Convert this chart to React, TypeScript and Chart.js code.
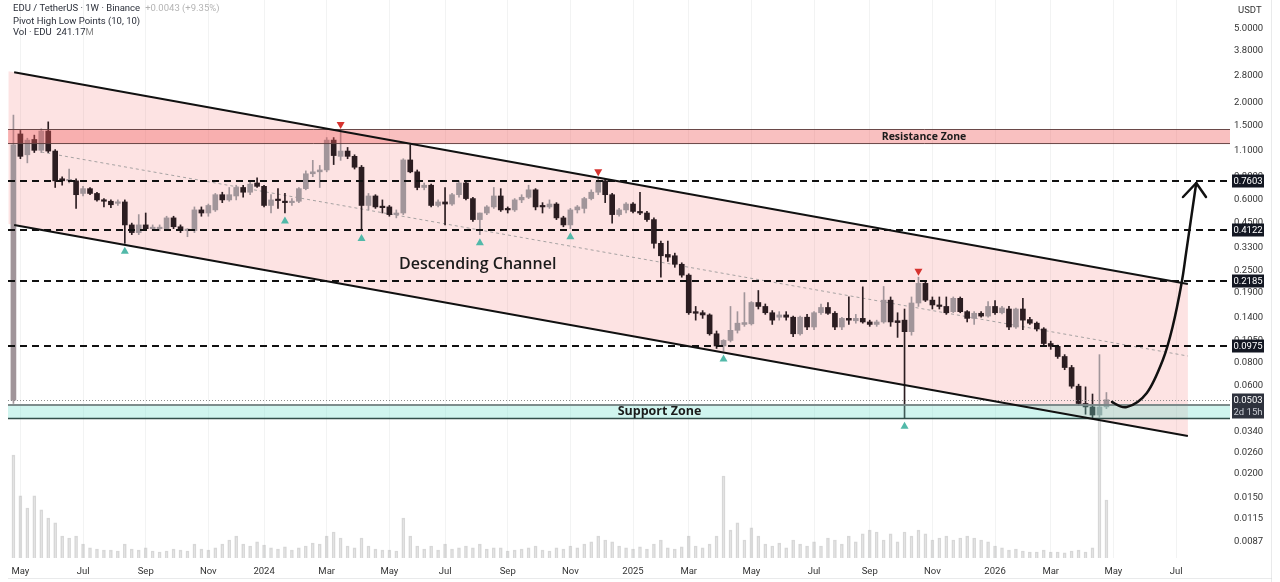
import React, { useEffect, useRef } from "react";
import { Chart, registerables } from "chart.js";

Chart.register(...registerables);

// Weekly EDU/USDT candles, first bar = week of 24 Apr 2023
const opens = [
  0.05, 1.36, 1.05, 1.27, 1.11, 1.41, 1.1, 0.78, 0.76, 0.76,
  0.65, 0.69, 0.65, 0.6, 0.59, 0.575, 0.585, 0.44, 0.4, 0.44,
  0.42, 0.42, 0.42, 0.48, 0.43, 0.41, 0.41, 0.53, 0.51, 0.53,
  0.64, 0.6, 0.63, 0.7, 0.66, 0.74, 0.71, 0.56, 0.6, 0.59,
  0.58, 0.59, 0.69, 0.83, 0.85, 0.87, 1.26, 1.03, 1.1, 1.03,
  0.9, 0.56, 0.63, 0.55, 0.55, 0.5, 0.51, 0.985, 0.85, 0.7,
  0.72, 0.56, 0.585, 0.57, 0.64, 0.74, 0.61, 0.47, 0.51, 0.55,
  0.63, 0.535, 0.53, 0.6, 0.62, 0.68, 0.555, 0.55, 0.57, 0.48,
  0.44, 0.53, 0.54, 0.61, 0.66, 0.76, 0.64, 0.5, 0.53, 0.57,
  0.52, 0.51, 0.47, 0.35, 0.305, 0.3, 0.27, 0.236, 0.15, 0.148,
  0.144, 0.114, 0.098, 0.105, 0.119, 0.128, 0.129, 0.168, 0.16, 0.148,
  0.14, 0.144, 0.14, 0.114, 0.14, 0.124, 0.148, 0.158, 0.147, 0.124,
  0.138, 0.134, 0.138, 0.132, 0.128, 0.132, 0.173, 0.134, 0.135, 0.117,
  0.167, 0.213, 0.173, 0.163, 0.16, 0.15, 0.177, 0.15, 0.138, 0.147,
  0.142, 0.16, 0.148, 0.155, 0.124, 0.155, 0.136, 0.13, 0.121, 0.101,
  0.0975, 0.086, 0.075, 0.0595, 0.048, 0.046, 0.0416, 0.046,
];
const highs = [
  1.72, 1.42, 1.29, 1.34, 1.45, 1.58, 1.12, 0.8, 0.88, 0.78,
  0.71, 0.7, 0.66, 0.61, 0.6, 0.6, 0.6, 0.45, 0.5, 0.51,
  0.44, 0.44, 0.49, 0.49, 0.44, 0.42, 0.55, 0.55, 0.57, 0.65,
  0.66, 0.7, 0.72, 0.72, 0.75, 0.79, 0.72, 0.64, 0.69, 0.65,
  0.61, 0.7, 0.86, 0.98, 0.92, 1.3, 1.3, 1.42, 1.15, 1.05,
  0.92, 0.65, 0.64, 0.6, 0.56, 0.53, 1.0, 1.19, 0.87, 0.74,
  0.73, 0.6, 0.7, 0.65, 0.76, 0.75, 0.62, 0.51, 0.56, 0.7,
  0.69, 0.55, 0.61, 0.64, 0.72, 0.69, 0.58, 0.6, 0.58, 0.49,
  0.54, 0.56, 0.62, 0.68, 0.79, 0.78, 0.65, 0.54, 0.58, 0.58,
  0.66, 0.52, 0.48, 0.36, 0.36, 0.31, 0.275, 0.24, 0.16, 0.152,
  0.146, 0.118, 0.106, 0.16, 0.15, 0.19, 0.17, 0.195, 0.165, 0.152,
  0.15, 0.15, 0.142, 0.142, 0.145, 0.15, 0.165, 0.168, 0.15, 0.14,
  0.18, 0.145, 0.204, 0.135, 0.135, 0.205, 0.18, 0.148, 0.155, 0.18,
  0.23, 0.22, 0.18, 0.18, 0.18, 0.18, 0.18, 0.152, 0.15, 0.15,
  0.17, 0.172, 0.16, 0.16, 0.157, 0.177, 0.14, 0.132, 0.123, 0.104,
  0.099, 0.088, 0.077, 0.061, 0.059, 0.054, 0.088, 0.055,
];
const lows = [
  0.048, 1.0, 0.95, 1.08, 1.08, 1.08, 0.7, 0.72, 0.74, 0.54,
  0.63, 0.64, 0.59, 0.55, 0.545, 0.56, 0.35, 0.39, 0.39, 0.41,
  0.41, 0.41, 0.41, 0.42, 0.4, 0.38, 0.4, 0.49, 0.49, 0.52,
  0.58, 0.59, 0.6, 0.62, 0.64, 0.7, 0.55, 0.51, 0.54, 0.51,
  0.56, 0.58, 0.68, 0.8, 0.7, 0.85, 0.93, 0.98, 1.0, 0.88,
  0.41, 0.53, 0.54, 0.51, 0.49, 0.48, 0.5, 0.84, 0.68, 0.68,
  0.55, 0.55, 0.44, 0.56, 0.62, 0.6, 0.46, 0.39, 0.5, 0.54,
  0.52, 0.51, 0.52, 0.58, 0.61, 0.53, 0.51, 0.54, 0.47, 0.43,
  0.42, 0.51, 0.51, 0.6, 0.64, 0.58, 0.45, 0.49, 0.51, 0.51,
  0.5, 0.46, 0.33, 0.23, 0.28, 0.26, 0.23, 0.145, 0.135, 0.138,
  0.112, 0.095, 0.092, 0.103, 0.115, 0.125, 0.127, 0.155, 0.145, 0.128,
  0.135, 0.135, 0.11, 0.112, 0.12, 0.12, 0.145, 0.145, 0.12, 0.12,
  0.128, 0.13, 0.13, 0.125, 0.125, 0.13, 0.125, 0.109, 0.04, 0.112,
  0.16, 0.17, 0.155, 0.155, 0.145, 0.148, 0.148, 0.132, 0.128, 0.14,
  0.14, 0.145, 0.146, 0.12, 0.122, 0.12, 0.128, 0.118, 0.098, 0.094,
  0.084, 0.073, 0.058, 0.047, 0.042, 0.04, 0.0405, 0.045,
];
const closes = [
  1.19, 1.03, 1.26, 1.11, 1.41, 1.1, 0.76, 0.76, 0.77, 0.64,
  0.69, 0.65, 0.6, 0.59, 0.565, 0.585, 0.44, 0.4, 0.44, 0.42,
  0.425, 0.425, 0.48, 0.43, 0.41, 0.415, 0.53, 0.51, 0.56, 0.64,
  0.6, 0.64, 0.7, 0.66, 0.73, 0.71, 0.56, 0.6, 0.595, 0.58,
  0.59, 0.69, 0.83, 0.85, 0.87, 1.26, 1.04, 1.1, 1.03, 0.9,
  0.56, 0.63, 0.55, 0.545, 0.5, 0.51, 0.985, 0.85, 0.7, 0.72,
  0.56, 0.585, 0.57, 0.64, 0.74, 0.61, 0.47, 0.51, 0.55, 0.63,
  0.53, 0.53, 0.6, 0.62, 0.68, 0.55, 0.55, 0.57, 0.48, 0.44,
  0.53, 0.55, 0.61, 0.66, 0.75, 0.64, 0.5, 0.53, 0.57, 0.52,
  0.51, 0.47, 0.35, 0.3, 0.295, 0.27, 0.236, 0.148, 0.147, 0.144,
  0.114, 0.098, 0.105, 0.119, 0.13, 0.131, 0.168, 0.16, 0.148, 0.135,
  0.144, 0.14, 0.114, 0.14, 0.124, 0.148, 0.158, 0.147, 0.124, 0.138,
  0.135, 0.138, 0.132, 0.128, 0.132, 0.173, 0.132, 0.131, 0.117, 0.167,
  0.213, 0.173, 0.163, 0.16, 0.148, 0.177, 0.15, 0.138, 0.147, 0.142,
  0.16, 0.148, 0.157, 0.124, 0.155, 0.135, 0.13, 0.121, 0.101, 0.0975,
  0.086, 0.075, 0.0595, 0.048, 0.046, 0.0416, 0.046, 0.0503,
];
// weekly volume, millions of EDU
const volumes = [
  428, 258, 208, 258, 200, 166, 146, 91, 83, 91,
  58, 42, 37, 33, 33, 29, 58, 37, 33, 42,
  29, 25, 29, 37, 33, 29, 58, 37, 33, 42,
  58, 75, 91, 58, 50, 67, 54, 42, 37, 46,
  33, 42, 50, 62, 58, 91, 108, 83, 50, 42,
  83, 50, 37, 33, 33, 29, 166, 91, 50, 37,
  50, 33, 58, 37, 42, 50, 42, 58, 37, 42,
  42, 29, 33, 37, 42, 50, 33, 29, 42, 37,
  50, 42, 58, 67, 91, 75, 67, 50, 42, 37,
  46, 37, 58, 75, 42, 37, 46, 91, 50, 42,
  58, 91, 341, 116, 146, 75, 125, 91, 58, 50,
  62, 42, 75, 58, 50, 67, 50, 83, 75, 58,
  91, 67, 100, 116, 108, 75, 100, 67, 108, 91,
  116, 100, 75, 83, 91, 75, 83, 91, 83, 75,
  67, 50, 42, 33, 37, 29, 25, 25, 33, 25,
  25, 21, 29, 33, 25, 42, 574, 241.17,
];

const monthTicks = [1, 10, 19, 28, 36, 45, 54, 62, 71, 80, 89, 97, 106, 115, 123, 132, 141, 149, 158, 167];
const monthLabels = ["May", "Jul", "Sep", "Nov", "2024", "Mar", "May", "Jul", "Sep", "Nov", "2025", "Mar", "May", "Jul", "Sep", "Nov", "2026", "Mar", "May", "Jul"];
const priceTicks = [5, 3.8, 2.8, 2, 1.5, 1.1, 0.8, 0.6, 0.45, 0.33, 0.25, 0.19, 0.14, 0.105, 0.08, 0.06, 0.034, 0.026, 0.02, 0.015, 0.0115, 0.0087];

const keyLevels = [0.7603, 0.4122, 0.2185, 0.0975];
const resistanceZone = [1.2, 1.446];
const supportZone = [0.0398, 0.0471];
const channelUpper = [[-0.7, 2.96], [168.7, 0.2115]];
const channelLower = [[-0.7, 0.445], [168.7, 0.0321]];
const channelMid = [[4, 1.087], [168.7, 0.0865]];
const pivotHighs = [47, 84, 130];
const pivotLows = [16, 39, 50, 67, 80, 102, 128];
const projection = [[157.8, 0.0489], [159.9, 0.0459], [162.8, 0.0547], [165.1, 0.0823], [166.5, 0.124], [167.8, 0.214], [168.5, 0.322], [169.9, 0.74]];
const projectionHead = [[168.0, 0.622], [169.9, 0.74], [171.3, 0.622]];

const UP = "#a1959a";
const DOWN = "#2b1d21";
const FONT = "Roboto";

const lastClose = closes[closes.length - 1];
const prevClose = closes[closes.length - 2];
const lastVolume = volumes[volumes.length - 1];

function smoothPath(ctx: CanvasRenderingContext2D, pts: number[][]) {
  ctx.moveTo(pts[0][0], pts[0][1]);
  for (let i = 0; i < pts.length - 1; i++) {
    const p0 = pts[i - 1] || pts[i];
    const p1 = pts[i];
    const p2 = pts[i + 1];
    const p3 = pts[i + 2] || p2;
    ctx.bezierCurveTo(
      p1[0] + (p2[0] - p0[0]) / 6, p1[1] + (p2[1] - p0[1]) / 6,
      p2[0] - (p3[0] - p1[0]) / 6, p2[1] - (p3[1] - p1[1]) / 6,
      p2[0], p2[1]
    );
  }
}

const overlays = {
  id: "overlays",
  beforeDatasetsDraw(chart: any) {
    const { ctx, chartArea: a, scales } = chart;
    const px = (i: number) => scales.x.getPixelForValue(i);
    const py = (p: number) => scales.y.getPixelForValue(p);
    ctx.save();
    ctx.beginPath();
    ctx.rect(a.left, a.top, a.width, a.height);
    ctx.clip();
    // channel body
    ctx.beginPath();
    ctx.moveTo(px(channelUpper[0][0]), py(channelUpper[0][1]));
    ctx.lineTo(px(channelUpper[1][0]), py(channelUpper[1][1]));
    ctx.lineTo(px(channelLower[1][0]), py(channelLower[1][1]));
    ctx.lineTo(px(channelLower[0][0]), py(channelLower[0][1]));
    ctx.closePath();
    ctx.fillStyle = "rgba(240, 80, 80, 0.16)";
    ctx.fill();
    // channel median
    ctx.beginPath();
    ctx.setLineDash([3, 3]);
    ctx.strokeStyle = "rgba(150,150,150,0.85)";
    ctx.lineWidth = 1;
    ctx.moveTo(px(channelMid[0][0]), py(channelMid[0][1]));
    ctx.lineTo(px(channelMid[1][0]), py(channelMid[1][1]));
    ctx.stroke();
    ctx.restore();
  },
  afterDatasetsDraw(chart: any) {
    const { ctx, chartArea: a, scales } = chart;
    const px = (i: number) => scales.x.getPixelForValue(i);
    const py = (p: number) => scales.y.getPixelForValue(p);
    ctx.save();
    ctx.beginPath();
    ctx.rect(a.left, a.top, a.width, a.height);
    ctx.clip();

    // resistance zone
    const rTop = py(resistanceZone[1]);
    const rBot = py(resistanceZone[0]);
    ctx.fillStyle = "rgba(240, 90, 90, 0.38)";
    ctx.fillRect(a.left, rTop, a.right - a.left, rBot - rTop);
    ctx.strokeStyle = "rgba(90, 60, 60, 0.9)";
    ctx.lineWidth = 1;
    ctx.beginPath();
    ctx.moveTo(a.left, rTop + 0.5); ctx.lineTo(a.right, rTop + 0.5);
    ctx.moveTo(a.left, rBot - 0.5); ctx.lineTo(a.right, rBot - 0.5);
    ctx.stroke();

    // support zone
    const sTop = py(supportZone[1]);
    const sBot = py(supportZone[0]);
    ctx.fillStyle = "rgba(110, 225, 205, 0.32)";
    ctx.fillRect(a.left, sTop, a.right - a.left, sBot - sTop);
    ctx.strokeStyle = "rgba(120, 135, 135, 0.95)";
    ctx.lineWidth = 2;
    ctx.beginPath();
    ctx.moveTo(a.left, sTop); ctx.lineTo(a.right, sTop);
    ctx.stroke();
    ctx.strokeStyle = "rgba(40, 70, 65, 0.95)";
    ctx.lineWidth = 1.5;
    ctx.beginPath();
    ctx.moveTo(a.left, sBot); ctx.lineTo(a.right, sBot);
    ctx.stroke();

    // last price line
    ctx.setLineDash([1, 2]);
    ctx.strokeStyle = "rgba(130,130,130,0.9)";
    ctx.lineWidth = 1;
    ctx.beginPath();
    ctx.moveTo(a.left, Math.round(py(lastClose)) + 0.5);
    ctx.lineTo(a.right, Math.round(py(lastClose)) + 0.5);
    ctx.stroke();

    // key horizontal levels
    ctx.setLineDash([7, 5]);
    ctx.strokeStyle = "#111";
    ctx.lineWidth = 2;
    keyLevels.forEach((lv) => {
      const y = Math.round(py(lv));
      ctx.beginPath();
      ctx.moveTo(a.left, y);
      ctx.lineTo(a.right - 2, y);
      ctx.stroke();
    });
    ctx.setLineDash([]);

    // channel borders
    ctx.strokeStyle = "#111";
    ctx.lineWidth = 2;
    [channelUpper, channelLower].forEach((ln) => {
      ctx.beginPath();
      ctx.moveTo(px(ln[0][0] + 0.8), py(ln[0][1] * Math.pow(ln[1][1] / ln[0][1], 0.8 / (ln[1][0] - ln[0][0]))));
      ctx.lineTo(px(ln[1][0]), py(ln[1][1]));
      ctx.stroke();
    });

    // pivot markers
    ctx.fillStyle = "#d6332f";
    pivotHighs.forEach((i) => {
      const cx = px(i);
      const cy = py(highs[i]) - 5;
      ctx.beginPath();
      ctx.moveTo(cx - 4, cy - 3.5);
      ctx.lineTo(cx + 4, cy - 3.5);
      ctx.lineTo(cx, cy + 3.5);
      ctx.closePath();
      ctx.fill();
    });
    ctx.fillStyle = "#52b9a9";
    pivotLows.forEach((i) => {
      const cx = px(i);
      const cy = py(lows[i]) + 7;
      ctx.beginPath();
      ctx.moveTo(cx, cy - 3.5);
      ctx.lineTo(cx + 4, cy + 3.5);
      ctx.lineTo(cx - 4, cy + 3.5);
      ctx.closePath();
      ctx.fill();
    });

    // projected path
    ctx.strokeStyle = "#111";
    ctx.lineWidth = 2.5;
    ctx.lineCap = "round";
    ctx.lineJoin = "round";
    ctx.beginPath();
    smoothPath(ctx, projection.map((p) => [px(p[0]), py(p[1])]));
    ctx.stroke();
    ctx.beginPath();
    projectionHead.forEach((p, k) => {
      if (k === 0) ctx.moveTo(px(p[0]), py(p[1]));
      else ctx.lineTo(px(p[0]), py(p[1]));
    });
    ctx.stroke();

    // annotation texts
    ctx.fillStyle = "#1b1b1b";
    ctx.textBaseline = "middle";
    ctx.textAlign = "left";
    ctx.font = "600 16px 'Open Sans'";
    ctx.fillText("Descending Channel", px(55.4), py(0.271));
    ctx.textAlign = "center";
    ctx.font = "bold 10.5px 'Open Sans'";
    ctx.fillText("Resistance Zone", px(130.8), py(Math.sqrt(resistanceZone[0] * resistanceZone[1])));
    ctx.font = "bold 12.5px 'Open Sans'";
    ctx.fillText("Support Zone", px(92.8), py(Math.sqrt(supportZone[0] * supportZone[1])));
    ctx.restore();
  },
  afterDraw(chart: any) {
    const { ctx, chartArea: a, scales } = chart;
    const py = (p: number) => scales.y.getPixelForValue(p);
    ctx.save();
    // price axis tags
    const tag = (val: number, text: string, bg: string, fg: string, dy = 0) => {
      const y = Math.round(py(val)) + dy;
      ctx.fillStyle = bg;
      ctx.fillRect(a.right + 2, y - 6.5, 32, 13);
      ctx.fillStyle = fg;
      ctx.font = `9.5px ${FONT}`;
      ctx.textAlign = "center";
      ctx.textBaseline = "middle";
      ctx.fillText(text, a.right + 18, y + 0.5);
    };
    keyLevels.forEach((lv) => tag(lv, lv.toFixed(4), "#131722", "#fff"));
    tag(lastClose, lastClose.toFixed(4), "#2e323d", "#fff");
    tag(lastClose, "2d 15h", "#2e323d", "#c8cbd2", 12);

    ctx.fillStyle = "#333";
    ctx.font = `9.5px ${FONT}`;
    ctx.textAlign = "left";
    ctx.textBaseline = "middle";
    ctx.fillText("USDT", a.right + 8, 11);

    // legend lines
    const chg = lastClose - prevClose;
    ctx.font = `9.5px ${FONT}`;
    ctx.fillStyle = "#2a2e39";
    const l1 = "EDU / TetherUS · 1W · Binance";
    ctx.fillText(l1, 13, 8.5);
    const w1 = ctx.measureText(l1).width;
    ctx.fillStyle = "#b4b4b4";
    ctx.fillText(`+${chg.toFixed(4)} (+${((chg / prevClose) * 100).toFixed(2)}%)`, 13 + w1 + 5, 8.5);
    ctx.fillStyle = "#2a2e39";
    ctx.fillText("Pivot High Low Points (10, 10)", 13, 21.5);
    const l3 = "Vol · EDU  " + lastVolume.toFixed(2);
    ctx.fillText(l3, 13, 33);
    ctx.fillStyle = "#888";
    ctx.fillText("M", 13 + ctx.measureText(l3).width, 33);

    // pane borders
    ctx.strokeStyle = "rgba(42,46,57,0.1)";
    ctx.lineWidth = 1;
    ctx.beginPath();
    ctx.moveTo(1271.5, 0); ctx.lineTo(1271.5, 582);
    ctx.moveTo(8, 578.5); ctx.lineTo(1271.5, 578.5);
    ctx.stroke();
    ctx.restore();
  },
};

export default function App() {
  const ref = useRef<HTMLCanvasElement>(null);
  useEffect(() => {
    const canvas = ref.current;
    if (!canvas) return;
    const colorOf = (i: number) => (closes[i] >= opens[i] ? UP : DOWN);
    const colors = opens.map((_, i) => colorOf(i));
    const chart = new Chart(canvas, {
      type: "bar",
      data: {
        datasets: [
          {
            label: "Volume",
            yAxisID: "yv",
            data: volumes.map((v, i) => ({ x: i, y: v })),
            backgroundColor: "rgba(150,150,150,0.03)",
            borderColor: "rgba(125,125,125,0.3)",
            borderWidth: 1,
            barThickness: 3,
            grouped: false,
            order: 3,
          },
          {
            label: "Wick",
            yAxisID: "y",
            data: lows.map((l, i) => ({ x: i, y: [l, highs[i]] })),
            backgroundColor: colors,
            barThickness: 1,
            grouped: false,
            order: 2,
          },
          {
            label: "Body",
            yAxisID: "y",
            data: opens.map((o, i) => ({ x: i, y: [Math.min(o, closes[i]), Math.max(o, closes[i])] })),
            backgroundColor: colors,
            barThickness: 5,
            minBarLength: 1.5,
            grouped: false,
            order: 1,
          },
        ],
      } as any,
      options: {
        animation: false,
        responsive: false,
        events: [],
        layout: { padding: { left: 8, right: 0, top: 0, bottom: 0 } },
        plugins: { legend: { display: false }, tooltip: { enabled: false } },
        scales: {
          x: {
            type: "linear",
            min: -0.78,
            max: 174.75,
            offset: false,
            grid: { offset: false, color: "rgba(42,46,57,0.06)", drawTicks: false },
            border: { display: false },
            afterBuildTicks: (s: any) => {
              s.ticks = monthTicks.map((v) => ({ value: v }));
            },
            afterFit: (s: any) => {
              s.height = 24;
              s.paddingLeft = 0;
              s.paddingRight = 0;
            },
            ticks: {
              autoSkip: false,
              maxRotation: 0,
              padding: 8,
              color: "#333",
              font: { family: FONT, size: 9.5 },
              callback: (v: any) => {
                const k = monthTicks.indexOf(Number(v));
                return k >= 0 ? monthLabels[k] : "";
              },
            },
          },
          y: {
            type: "logarithmic",
            position: "right",
            min: 0.00706,
            max: 7.165,
            bounds: "data",
            grid: { display: false, drawTicks: false },
            border: { display: false },
            afterBuildTicks: (s: any) => {
              s.ticks = priceTicks.map((v) => ({ value: v }));
            },
            afterFit: (s: any) => {
              s.width = 50;
              s.paddingTop = 0;
              s.paddingBottom = 0;
            },
            ticks: {
              autoSkip: false,
              padding: 4,
              color: "#333",
              font: { family: FONT, size: 9.5 },
              callback: (v: any) => Number(v).toFixed(4),
            },
          },
          yv: { type: "linear", display: false, min: 0, max: 2320 },
        },
      } as any,
      plugins: [overlays],
    });
    return () => chart.destroy();
  }, []);

  return (
    <div style={{ position: "fixed", left: 0, top: 0, width: 1280, height: 582, background: "#fff" }}>
      <canvas ref={ref} width={1280} height={582} />
    </div>
  );
}
